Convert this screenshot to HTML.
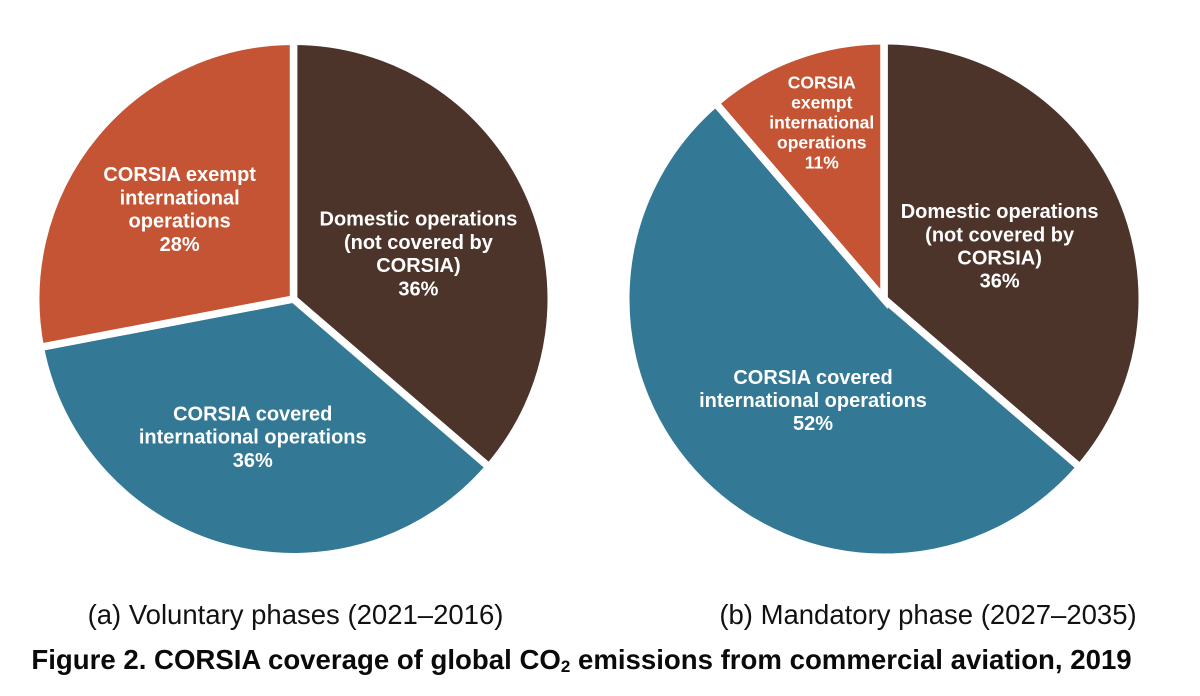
<!DOCTYPE html>
<html lang="en">
<head>
<meta charset="utf-8">
<title>CORSIA coverage of global CO2 emissions</title>
<style>
html,body{margin:0;padding:0;background:#fff;}
body{width:1200px;height:696px;overflow:hidden;}
svg{display:block;font-family:"Liberation Sans",Arial,sans-serif;}
</style>
</head>
<body>
<svg id="chart" width="1200" height="696" viewBox="0 0 1200 696" xmlns="http://www.w3.org/2000/svg">
  <text x="295.5" y="624" text-anchor="middle" font-size="27.5" fill="#111">(a) Voluntary phases (2021–2016)</text>
  <text x="928" y="624" text-anchor="middle" font-size="27.5" fill="#111">(b) Mandatory phase (2027–2035)</text>
  <text x="581.5" y="669" text-anchor="middle" font-size="27.6" font-weight="700" fill="#0a0a0a">Figure 2. CORSIA coverage of global CO<tspan font-size="17" dy="3">2</tspan><tspan dy="-3"> emissions from commercial aviation, 2019</tspan></text>
</svg>
<script>
const sliceNames = ['domestic', 'covered', 'exempt'];
const sliceColors = ['#4d342a', '#337894', '#c55434'];
const voluntaryValues = [36.3, 35.7, 28];
const mandatoryValues = [36.3, 52.4, 11.3];

const voluntaryLabels = [
  ['Domestic operations', '(not covered by', 'CORSIA)'],
  ['CORSIA covered', 'international operations'],
  ['CORSIA exempt', 'international', 'operations']
];
const mandatoryLabels = [
  ['Domestic operations', '(not covered by', 'CORSIA)'],
  ['CORSIA covered', 'international operations'],
  ['CORSIA', 'exempt', 'international', 'operations']
];

const NS = 'http://www.w3.org/2000/svg';
const svg = document.getElementById('chart');

function angleScale(value, total) {
  return value / total * Math.PI * 2;
}

function polar(cx, cy, r, a) {
  return [cx + r * Math.sin(a), cy - r * Math.cos(a)];
}

function drawPie(pie) {
  const total = pie.values.reduce(function (s, v) { return s + v; }, 0);
  const group = document.createElementNS(NS, 'g');
  
  
  svg.appendChild(group);

  const drawnR = pie.r + pie.gap / 2;
  let start = 0;
  pie.values.forEach(function (value, i) {
    const sweep = angleScale(value, total);
    const end = start + sweep;
    const p0 = polar(pie.cx, pie.cy, drawnR, start);
    const p1 = polar(pie.cx, pie.cy, drawnR, end);
    const large = sweep > Math.PI ? 1 : 0;
    const path = document.createElementNS(NS, 'path');
    
    
    path.setAttribute('d', 'M' + pie.cx + ' ' + pie.cy + ' L' + p0[0] + ' ' + p0[1] +
      ' A' + drawnR + ' ' + drawnR + ' 0 ' + large + ' 1 ' + p1[0] + ' ' + p1[1] + ' Z');
    path.setAttribute('fill', sliceColors[i]);
    path.setAttribute('stroke', '#fff');
    path.setAttribute('stroke-width', pie.gap);
    path.setAttribute('stroke-linejoin', 'miter');
    group.appendChild(path);
    start = end;
  });

  start = 0;
  pie.values.forEach(function (value, i) {
    const sweep = angleScale(value, total);
    const mid = start + sweep / 2;
    const lines = pie.labels[i].concat([Math.round(value) + '%']);
    const place = polar(pie.cx, pie.cy, pie.r * 0.5, mid);
    const lx = place[0] + pie.labelShift[i][0];
    const ly = place[1] + pie.labelShift[i][1];
    const label = document.createElementNS(NS, 'text');
    
    
    label.setAttribute('text-anchor', 'middle');
    label.setAttribute('fill', '#fff');
    label.setAttribute('font-weight', '700');
    label.setAttribute('font-size', pie.fontSize[i]);
    const lh = pie.lineHeight[i];
    lines.forEach(function (line, k) {
      const t = document.createElementNS(NS, 'tspan');
      t.setAttribute('x', lx);
      t.setAttribute('y', ly + (k - (lines.length - 1) / 2) * lh);
      t.textContent = line;
      label.appendChild(t);
    });
    group.appendChild(label);
    start += sweep;
  });
}

drawPie({
  name: 'pie-voluntary',
  cx: 293.5, cy: 299, r: 254, gap: 7.5,
  values: voluntaryValues,
  labels: voluntaryLabels,
  labelShift: [[9.5, 14.5], [-8, 22], [-16, -2]],
  fontSize: [20, 20, 20],
  lineHeight: [23.2, 23.2, 23.2]
});

drawPie({
  name: 'pie-mandatory',
  cx: 884, cy: 299, r: 254.5, gap: 7.5,
  values: mandatoryValues,
  labels: mandatoryLabels,
  labelShift: [[0, 7], [19, 18], [-18, -51]],
  fontSize: [20, 20, 17.5],
  lineHeight: [23.2, 23.2, 20]
});
</script>
</body>
</html>
